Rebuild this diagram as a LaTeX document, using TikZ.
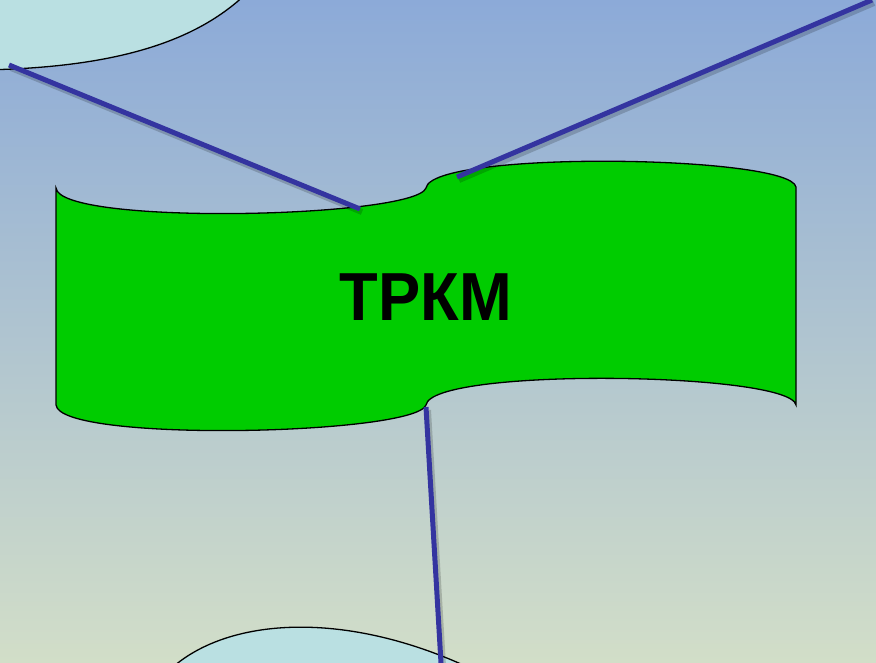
\documentclass[tikz,border=0pt]{standalone}
\usepackage{fontspec}
\setmainfont{Liberation Sans}
\begin{document}
\begin{tikzpicture}[x=1pt,y=-1pt,
  wave/.style={draw=black,line width=1.3pt,fill={rgb,255:red,0;green,204;blue,0}},
  bubble/.style={draw=black,line width=1.3pt,fill={rgb,255:red,186;green,224;blue,226}},
  link/.style={draw={rgb,255:red,52;green,52;blue,160},line width=5pt},
  linkshadow/.style={draw=black,opacity=0.18,line width=6pt},
  label/.style={font=\bfseries\fontsize{68}{80}\selectfont,text=black}]
\useasboundingbox (0,0) rectangle (876,663);
\clip (0,0) rectangle (876,663);
\shade[top color={rgb,255:red,140;green,170;blue,216},bottom color={rgb,255:red,210;green,222;blue,200}] (0,0) rectangle (876,663);
% bubbles
\path[bubble] (-20,70) .. controls (120,68) and (200,40) .. (250,-10) -- (-20,-10) -- cycle;
\path[bubble] (160,680) .. controls (215,615) and (350,605) .. (490,678) -- (490,700) -- (160,700) -- cycle;
% wave shape
\path[wave] (56,188) .. controls (60,226) and (415,218) .. (426,188)
  .. controls (432,150) and (790,155) .. (796,187)
  -- (796,405) .. controls (790,372) and (432,367) .. (426,405)
  .. controls (415,435) and (60,443) .. (56,405) -- cycle;
\node[label,xscale=0.93] (lbl) at (426,297) {ТРКМ};
% connector end points
\coordinate (a1) at (9,65);
\coordinate (b1) at (360,209);
\coordinate (a2) at (457,177);
\coordinate (b2) at (872,0);
\coordinate (a3) at (426,407);
\coordinate (b3) at (441,663);
\foreach \p/\q in {a1/b1,a2/b2,a3/b3}{
  \draw[linkshadow] ([shift={(2,3)}]\p) -- ([shift={(2,3)}]\q);
  \draw[link] (\p) -- (\q);
}
\end{tikzpicture}
\end{document}
